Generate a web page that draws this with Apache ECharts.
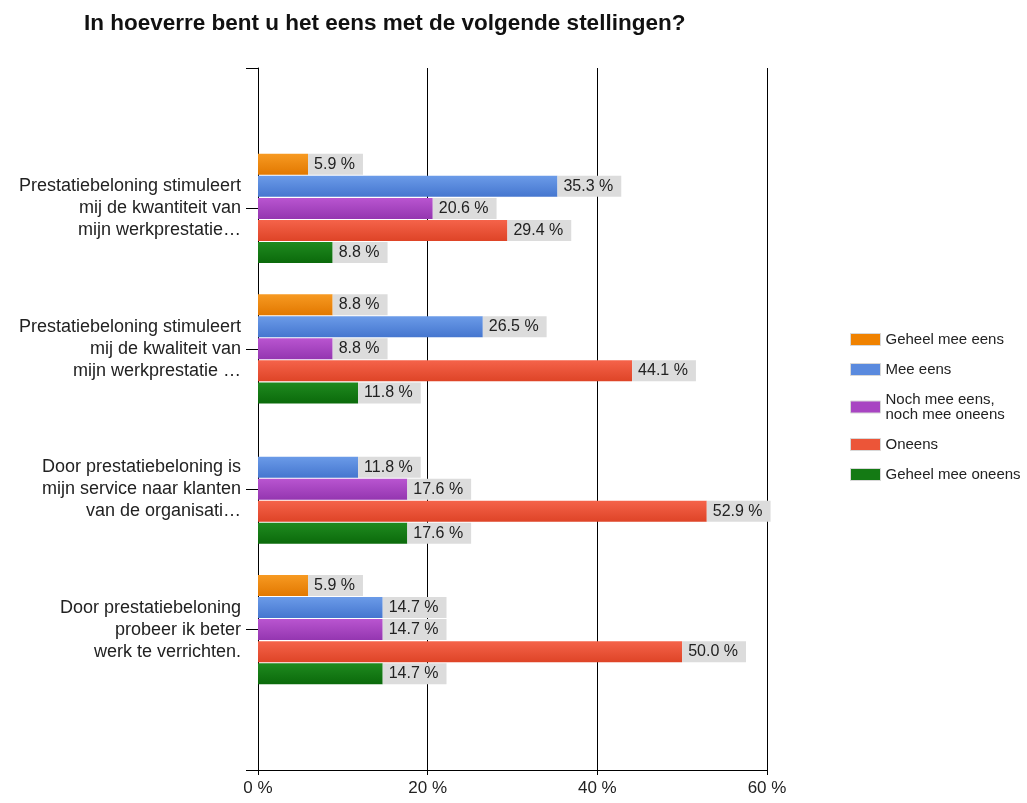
<!DOCTYPE html>
<html>
<head>
<meta charset="utf-8">
<script src="https://cdn.jsdelivr.net/npm/echarts@6/dist/echarts.min.js"></script>
<style>
  html, body { margin: 0; padding: 0; background: #fff; }
  #chart { width: 1027px; height: 803px; }
</style>
</head>
<body>
<div id="chart"></div>
<script>
// Survey statements (blank entries pad the axis so each group sits on a tick)
const categories = [
  '',
  'Prestatiebeloning stimuleert\nmij de kwantiteit van\nmijn werkprestatie…',
  'Prestatiebeloning stimuleert\nmij de kwaliteit van\nmijn werkprestatie …',
  'Door prestatiebeloning is\nmijn service naar klanten\nvan de organisati…',
  'Door prestatiebeloning\nprobeer ik beter\nwerk te verrichten.',
  ''
];

const seriesNames = [
  'Geheel mee eens',
  'Mee eens',
  'Noch mee eens,\nnoch mee oneens',
  'Oneens',
  'Geheel mee oneens'
];

// Percentages per answer, one value per statement (null = no responses)
const geheelMeeEens   = [null, 5.9, 8.8, null, 5.9, null];
const meeEens         = [null, 35.3, 26.5, 11.8, 14.7, null];
const noch            = [null, 20.6, 8.8, 17.6, 14.7, null];
const oneens          = [null, 29.4, 44.1, 52.9, 50.0, null];
const geheelMeeOneens = [null, 8.8, 11.8, 17.6, 14.7, null];

const xTicks = [0, 20, 40, 60];

const colorStops = [
  ['#f79a22', '#e27800'],
  ['#6b9be8', '#4576cf'],
  ['#b955d0', '#9436b0'],
  ['#f5634a', '#de4427'],
  ['#1f8a1f', '#0b6a0b']
];
const legendColors = ['#f08200', '#5a8ade', '#a845c2', '#ec5538', '#147a14'];

const seriesData = [geheelMeeEens, meeEens, noch, oneens, geheelMeeOneens];

const fontFamily = "'Liberation Sans', Arial, sans-serif";

const chart = echarts.init(document.getElementById('chart'), null, { renderer: 'canvas' });

chart.setOption({
  animation: false,
  backgroundColor: '#ffffff',
  title: {
    text: 'In hoeverre bent u het eens met de volgende stellingen?',
    left: 79,
    top: 7,
    textStyle: { fontFamily, fontSize: 22.5, fontWeight: 'bold', color: '#111' }
  },
  legend: {
    orient: 'vertical',
    left: 845,
    top: 327,
    itemWidth: 30,
    itemHeight: 12,
    itemGap: 15,
    icon: 'rect',
    data: seriesNames.map((n, i) => ({
      name: n,
      itemStyle: { color: legendColors[i], borderColor: '#d8d8d8', borderWidth: 1 }
    })),
    textStyle: { fontFamily, fontSize: 15, color: '#222', lineHeight: 15, padding: [0, 0, 0, 0] }
  },
  grid: { left: 258, right: 260, top: 68, bottom: 33, containLabel: false },
  xAxis: {
    type: 'value',
    min: 0,
    max: 60,
    interval: 20,
    axisLine: { show: true, lineStyle: { color: '#000', width: 1 } },
    axisTick: { show: true, length: 5, lineStyle: { color: '#000' } },
    axisLabel: {
      formatter: v => xTicks.includes(v) ? v + ' %' : '',
      fontFamily, fontSize: 17, color: '#222', margin: 10
    },
    splitLine: { show: true, lineStyle: { color: '#000', width: 1 } }
  },
  yAxis: {
    type: 'category',
    inverse: true,
    boundaryGap: false,
    data: categories,
    axisLine: { show: true, lineStyle: { color: '#000', width: 1 } },
    axisTick: { show: true, length: 12, inside: false, lineStyle: { color: '#000' } },
    axisLabel: {
      fontFamily, fontSize: 18, color: '#222', lineHeight: 22, margin: 17, align: 'right'
    },
    splitLine: { show: false }
  },
  series: seriesData.map((d, i) => ({
    name: seriesNames[i],
    type: 'bar',
    data: d,
    barWidth: 21,
    barGap: '5%',
    itemStyle: {
      color: new echarts.graphic.LinearGradient(0, 0, 0, 1, [
        { offset: 0, color: colorStops[i][0] },
        { offset: 1, color: colorStops[i][1] }
      ])
    },
    label: {
      show: true,
      position: 'right',
      distance: 0,
      formatter: p => p.value == null ? '' : p.value.toFixed(1) + ' %',
      fontFamily,
      fontSize: 16,
      color: '#222',
      backgroundColor: '#dcdcdc',
      padding: [3, 8, 2, 6],
      lineHeight: 16
    }
  }))
});
</script>
</body>
</html>
